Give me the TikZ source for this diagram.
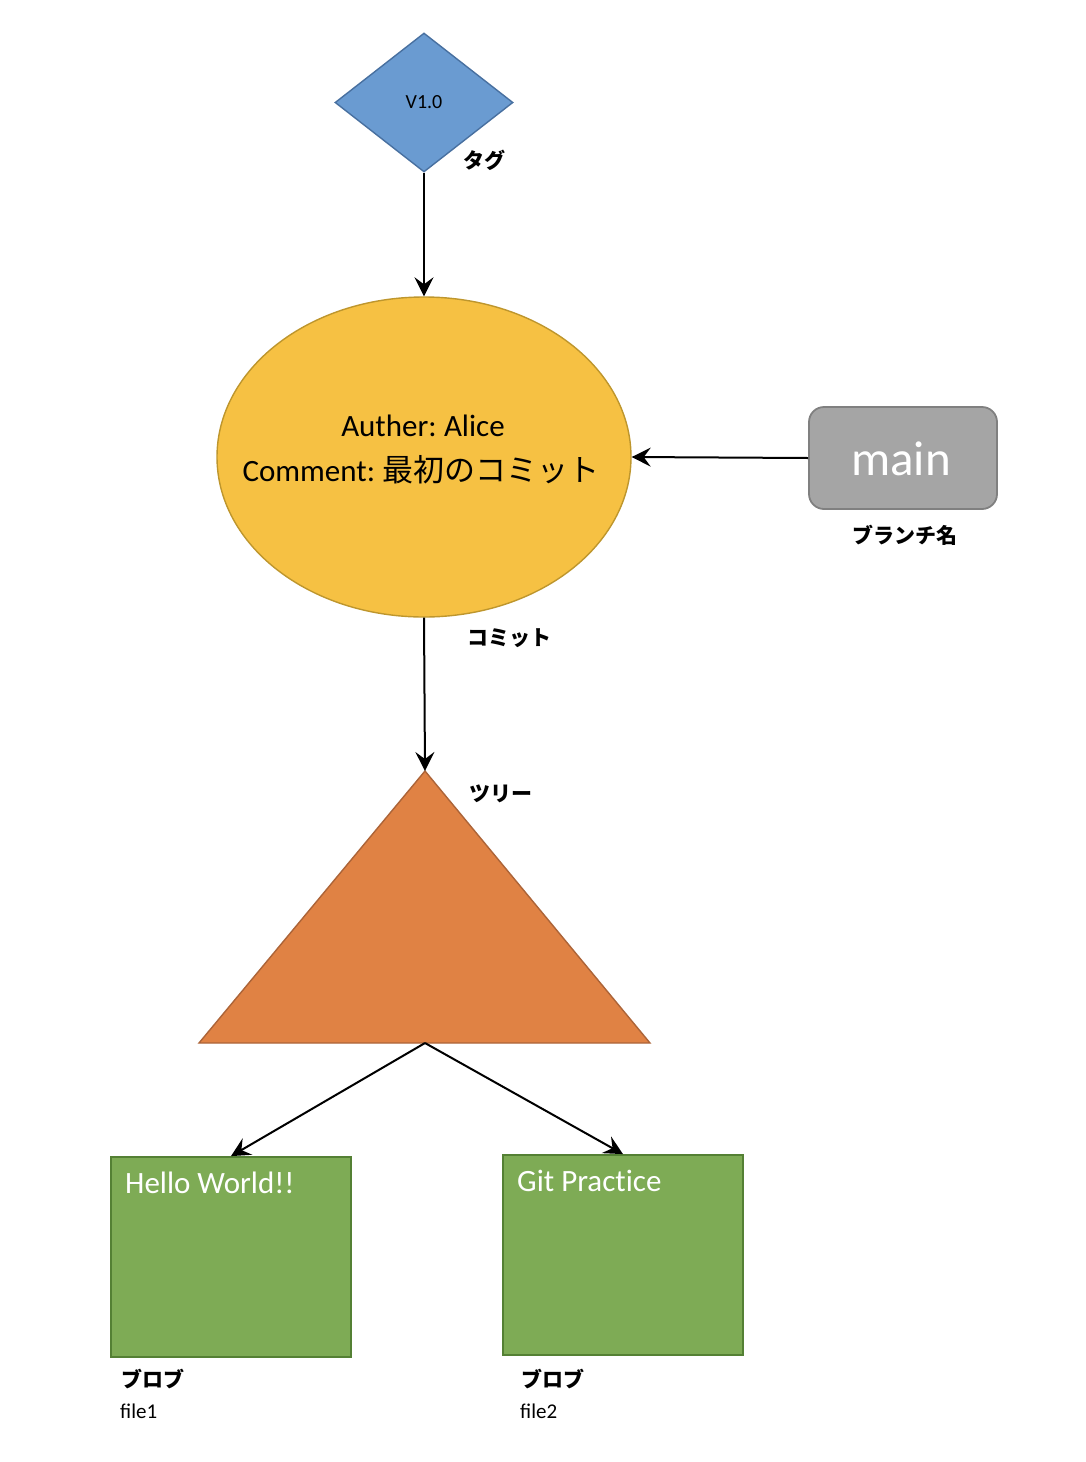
\documentclass[tikz,border=0pt]{standalone}
\usepackage{fontspec}
\setmainfont{Carlito}
\newfontfamily\jp{Noto Sans CJK JP}
\usetikzlibrary{shapes.geometric,arrows.meta}
\definecolor{tagfill}{RGB}{106,155,209}
\definecolor{tagline}{RGB}{72,112,160}
\definecolor{comfill}{RGB}{246,193,67}
\definecolor{comline}{RGB}{190,150,45}
\definecolor{brfill}{RGB}{165,165,165}
\definecolor{brline}{RGB}{128,128,128}
\definecolor{trfill}{RGB}{224,130,68}
\definecolor{trline}{RGB}{172,100,56}
\definecolor{blfill}{RGB}{126,171,85}
\definecolor{blline}{RGB}{84,128,52}
\tikzset{
  arr/.style={draw=black, line width=2pt, -{Stealth[length=19pt,width=19pt,inset=7pt]}},
  jplabel/.style={font=\jp\bfseries\fontsize{21}{25}\selectfont, inner sep=0pt},
  filelabel/.style={font=\fontsize{21}{25}\selectfont, inner sep=0pt, anchor=base west},
  blob/.style={draw=blline, fill=blfill, line width=1.8pt, minimum width=240pt, minimum height=200pt, inner sep=0pt},
  blobtext/.style={text=white, font=\addfontfeatures{Ligatures=NoCommon}\fontsize{31}{36}\selectfont, inner sep=0pt, anchor=base west}
}
\begin{document}
\begin{tikzpicture}[x=1pt,y=-1pt]
\useasboundingbox (0,0) rectangle (1086,1462);
% tag
\node[diamond, draw=tagline, fill=tagfill, line width=1.4pt, minimum width=178pt, minimum height=139pt, inner sep=0pt, font=\fontsize{20}{24}\selectfont] (tag) at (424,102.5) {V1.0};
\node[jplabel] (taglbl) at (484,160) {タグ};
% commit
\node[ellipse, draw=comline, fill=comfill, line width=1.4pt, minimum width=414pt, minimum height=320pt, inner sep=0pt] (commit) at (424,457) {};
\node[font=\fontsize{31}{45}\selectfont, inner sep=0pt, anchor=base] (l1) at (423,436) {Auther:\kern-2pt{} Alice};
\node[font=\fontsize{31}{45}\selectfont, inner sep=0pt, anchor=base] (l2) at (421,481) {Comment:\kern-2pt{} {\jp 最初のコミット}};
\node[jplabel] (comlbl) at (509,638) {コミット};
% branch
\node[draw=brline, fill=brfill, line width=1.8pt, rounded corners=15pt, minimum width=188pt, minimum height=102pt, inner sep=0pt] (main) at (903,458) {};
\node[text=white, font=\fontsize{49}{56}\selectfont, inner sep=0pt, anchor=base] (maintext) at (901,475) {main};
\node[jplabel] (brlbl) at (905,535) {ブランチ名};
% tree
\coordinate (treetop) at (425,771);
\coordinate (treeleft) at (199,1043);
\coordinate (treeright) at (650,1043);
\coordinate (treebase) at (425,1043);
\draw[draw=trline, fill=trfill, line width=1.4pt, line join=miter] (treetop) -- (treeright) -- (treeleft) -- cycle;
\node[jplabel] (trlbl) at (501,794) {ツリー};
% blobs
\node[blob] (blob1) at (231,1257) {};
\node[blob] (blob2) at (623,1255) {};
\node[blobtext] (b1t) at (125,1193) {Hello World!!};
\node[blobtext] (b2t) at (517,1191) {Git Practice};
\node[jplabel] (b1lbl) at (153,1379) {ブロブ};
\node[jplabel] (b2lbl) at (553,1379) {ブロブ};
\node[filelabel] (f1) at (120,1418) {file1};
\node[filelabel] (f2) at (520,1418) {file2};
% connectors
\draw[arr] (tag.south) -- (commit.north);
\draw[arr] (main.west) -- (commit.east);
\draw[arr] (commit.south) -- (treetop);
\draw[arr] (treebase) -- (blob1.north);
\draw[arr] (treebase) -- (blob2.north);
\end{tikzpicture}
\end{document}
